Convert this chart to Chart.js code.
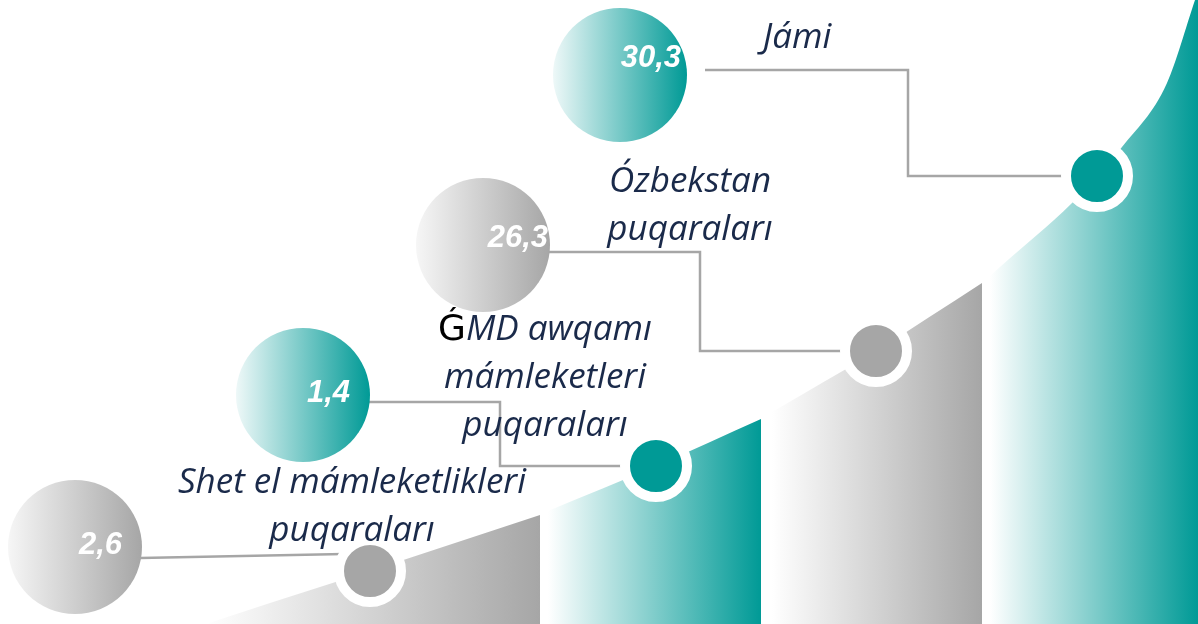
<!DOCTYPE html>
<html>
<head>
<meta charset="utf-8">
<script src="https://cdn.jsdelivr.net/npm/chart.js@4.4.1/dist/chart.umd.min.js"></script>
<style>
  html, body { margin: 0; padding: 0; background: #ffffff; }
  canvas { display: block; }
</style>
</head>
<body>
<canvas id="chart" width="1198" height="624"></canvas>
<script>
// categories (label lines) and their values
const categories = [
    ['Shet el mámleketlikleri', 'puqaraları'],
    ['ǴMD awqamı', 'mámleketleri', 'puqaraları'],
    ['Ózbekstan', 'puqaraları'],
    ['Jámi']
];
const values = [2.6, 1.4, 26.3, 30.3];

// decorative rising curve behind the columns
const curveX = [206, 270, 370, 540, 548, 656, 761, 772, 876, 982, 990, 1000, 1072, 1097, 1122, 1167, 1195, 1198];
const curveH = [0, 21, 53, 109, 113, 158, 205, 212, 273, 341, 348, 357, 421, 448, 477, 541, 624, 633];

// layout (chart units: x from left, y from bottom)
const W = 1198, H = 624;
const columns = [[206, 540], [548, 761], [772, 982], [990, 1198]];
const colors = ['#a6a6a6', '#009a96', '#a6a6a6', '#009a96'];
const paleColors = ['#f6f6f6', '#eef8f8', '#f6f6f6', '#eef8f8'];
const dotX = [370, 656, 876, 1097];
const bubbles = [[75, 77], [303, 229], [483, 379], [620, 549]];
const bubbleR = 67;
const textOffset = [[47, -2], [47, -2], [65, -7], [61, -17]];
const labelPos = [[352, 131], [545, 284], [690, 432], [797, 576]];
const lineGap = 48;
const connectors = [
    [[140, 66], [344, 70]],
    [[303, 222], [500, 222], [500, 158], [656, 158]],
    [[483, 372], [700, 372], [700, 273], [876, 273]],
    [[705, 554], [908, 554], [908, 448], [1097, 448]]
];

const pts = (xs, ys) => xs.map((x, i) => ({ x: x, y: ys[i] }));

function hGradient (chart, x0, x1, from, to) {
    const sx = chart.scales.x;
    const g = chart.ctx.createLinearGradient(sx.getPixelForValue(x0), 0, sx.getPixelForValue(x1), 0);
    g.addColorStop(0, from);
    g.addColorStop(1, to);
    return g;
}

const bubbleData = bubbles.map(b => ({ x: b[0], y: b[1] }));
const dotData = dotX.map(x => ({ x: x, y: curveH[curveX.indexOf(x)] }));

const columnSets = columns.map((c, i) => {
    const data = pts(curveX, curveH).filter(p => p.x >= c[0] && p.x <= c[1]);
    return {
        type: 'line',
        data: data,
        fill: 'origin',
        borderWidth: 0,
        borderColor: 'rgba(0,0,0,0)',
        pointRadius: 0,
        cubicInterpolationMode: 'monotone',
        backgroundColor: (ctx) => {
            if (!ctx.chart.chartArea) return colors[i];
            return hGradient(ctx.chart, c[0], c[1], '#ffffff', colors[i]);
        }
    };
});

const connectorSets = connectors.map(c => ({
    type: 'line',
    data: c.map(p => ({ x: p[0], y: p[1] })),
    borderColor: '#a6a6a6',
    borderWidth: 2.5,
    pointRadius: 0,
    fill: false,
    tension: 0
}));

// the reference shows glyphs missing from the italic face in an upright black fallback
function drawLabelLine (ctx, text, cx, y) {
    const italic = 'italic 35px "Open Sans", "Noto Sans", sans-serif';
    const upright = '36px "DejaVu Sans", sans-serif';
    const parts = [];
    for (const ch of text) {
        const fallback = ch.codePointAt(0) >= 0x180;
        const last = parts[parts.length - 1];
        if (last && last.fallback === fallback) last.text += ch;
        else parts.push({ text: ch, fallback: fallback });
    }
    let total = 0;
    parts.forEach(p => {
        ctx.font = p.fallback ? upright : italic;
        p.w = ctx.measureText(p.text).width;
        total += p.w;
    });
    let x = cx - total / 2;
    ctx.textAlign = 'left';
    parts.forEach(p => {
        ctx.font = p.fallback ? upright : italic;
        ctx.fillStyle = p.fallback ? '#000000' : '#1a2a4a';
        ctx.fillText(p.text, x, y);
        x += p.w;
    });
}

const textPlugin = {
    id: 'texts',
    afterDatasetsDraw (chart) {
        const ctx = chart.ctx;
        const meta = chart.getDatasetMeta(0);
        ctx.save();
        ctx.fillStyle = '#ffffff';
        ctx.textAlign = 'right';
        ctx.textBaseline = 'middle';
        ctx.font = 'italic bold 31px "Liberation Sans", Arial, sans-serif';
        values.forEach((v, i) => {
            const el = meta.data[i];
            ctx.fillText(v.toFixed(1).replace('.', ','), el.x + textOffset[i][0], el.y + textOffset[i][1]);
        });

        ctx.textBaseline = 'alphabetic';
        categories.forEach((lines, i) => {
            const x = chart.scales.x.getPixelForValue(labelPos[i][0]);
            const y = chart.scales.y.getPixelForValue(labelPos[i][1]);
            lines.forEach((line, j) => drawLabelLine(ctx, line, x, y + j * lineGap));
        });
        ctx.restore();
    }
};

new Chart(document.getElementById('chart'), {
    type: 'line',
    data: {
        datasets: [
            {
                type: 'line',
                data: bubbleData,
                showLine: false,
                pointRadius: bubbleR,
                pointHoverRadius: bubbleR,
                pointBorderWidth: 0,
                clip: false,
                pointBackgroundColor: (ctx) => {
                    const k = ctx.dataIndex % 2;
                    if (ctx.type !== 'data' || !ctx.chart.chartArea) return colors[k];
                    const bx = ctx.raw.x;
                    return hGradient(ctx.chart, bx - bubbleR, bx + bubbleR, paleColors[k], colors[k]);
                }
            },
            {
                type: 'line',
                data: dotData,
                showLine: false,
                pointRadius: 31,
                pointHoverRadius: 31,
                pointBorderWidth: 10,
                pointBorderColor: '#ffffff',
                pointBackgroundColor: colors,
                clip: false
            },
            ...connectorSets,
            ...columnSets
        ]
    },
    options: {
        responsive: false,
        animation: false,
        events: [],
        layout: { padding: 0, autoPadding: false },
        scales: {
            x: { type: 'linear', min: 0, max: W, display: false },
            y: { type: 'linear', min: 0, max: H, display: false }
        },
        plugins: {
            legend: { display: false },
            tooltip: { enabled: false }
        }
    },
    plugins: [textPlugin]
});
</script>
</body>
</html>
